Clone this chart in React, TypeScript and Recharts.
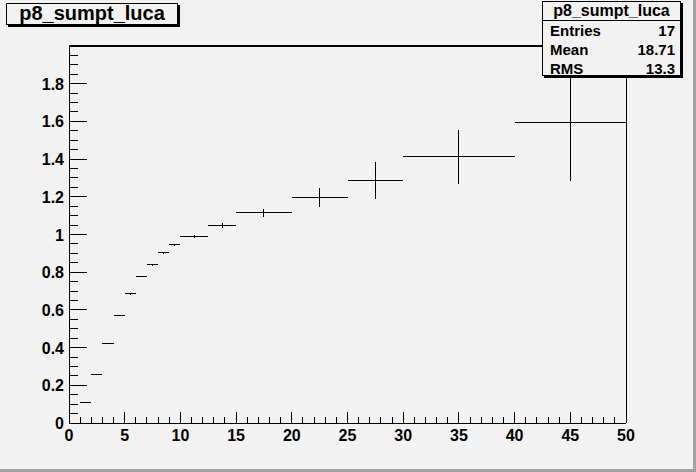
import { ComposedChart, Scatter, XAxis, YAxis, ErrorBar, ReferenceLine } from 'recharts';

// profile bins (low edge, high edge), mean value and error
const BIN_LO = [1, 2, 3, 4, 5, 6, 7, 8, 9, 10, 12.5, 15, 20, 25, 30, 40];
const BIN_HI = [2, 3, 4, 5, 6, 7, 8, 9, 10, 12.5, 15, 20, 25, 30, 40, 50];
const MEAN_Y = [0.107, 0.257, 0.42, 0.569, 0.685, 0.776, 0.839, 0.903, 0.945, 0.988, 1.048, 1.115, 1.195, 1.285, 1.412, 1.593];
const ERR_Y = [0.002, 0.003, 0.003, 0.003, 0.004, 0.004, 0.004, 0.005, 0.006, 0.008, 0.014, 0.021, 0.051, 0.097, 0.142, 0.31];

const X_MAJOR = [0, 5, 10, 15, 20, 25, 30, 35, 40, 45, 50];
const Y_MAJOR = [0, 0.2, 0.4, 0.6, 0.8, 1, 1.2, 1.4, 1.6, 1.8];
const Y_MAX = 2;

const TITLE = 'p8_sumpt_luca';
const STATS = [
  ['Entries', '17'],
  ['Mean', '18.71'],
  ['RMS', '13.3'],
];

const FONT = '"Liberation Sans", Arial, Helvetica, sans-serif';

// minor ticks: 5 per major on x, 4 per major on y
const xTicks: number[] = [];
for (let i = 0; i <= 50; i++) xTicks.push(i);
const yTicks: number[] = [];
for (let i = 0; i <= 40; i++) yTicks.push(Math.round(i * 5) / 100);

const data = BIN_LO.map((lo, i) => {
  const c = (lo + BIN_HI[i]) / 2;
  return { x: c, y: MEAN_Y[i], ex: [c - lo, BIN_HI[i] - c], ey: ERR_Y[i] };
});

const XTick = (props: any) => {
  const { x, y, payload } = props;
  const v = payload.value;
  const major = X_MAJOR.includes(v);
  return (
    <g>
      <line x1={x} x2={x} y1={y} y2={y - (major ? 11 : 6)} stroke="#000" />
      {major && (
        <text x={x} y={y + 18} textAnchor="middle" fontFamily={FONT} fontWeight="bold" fontSize={16} fill="#000">
          {v}
        </text>
      )}
    </g>
  );
};

const YTick = (props: any) => {
  const { x, y, payload } = props;
  const v = payload.value;
  const major = Y_MAJOR.some((m) => Math.abs(m - v) < 1e-6);
  return (
    <g>
      <line x1={x} x2={x + (major ? 18 : 9)} y1={y} y2={y} stroke="#000" />
      {major && (
        <text x={x - 5} y={y + 6} textAnchor="end" fontFamily={FONT} fontWeight="bold" fontSize={16} fill="#000">
          {String(v)}
        </text>
      )}
    </g>
  );
};

export default function App() {
  return (
    <div
      style={{
        position: 'absolute',
        left: 0,
        top: 0,
        width: 696,
        height: 472,
        background: '#f2f2f2',
        fontFamily: FONT,
        overflow: 'hidden',
      }}
    >
      <ComposedChart
        width={696}
        height={472}
        margin={{ top: 46, right: 70, left: 0, bottom: 0 }}
        style={{ shapeRendering: 'crispEdges' }}
      >
        <XAxis
          type="number"
          dataKey="x"
          domain={[0, 50]}
          ticks={xTicks}
          interval={0}
          height={49}
          tickSize={0}
          tickMargin={0}
          tickLine={false}
          axisLine={{ stroke: '#000' }}
          tick={<XTick />}
        />
        <YAxis
          type="number"
          dataKey="y"
          domain={[0, Y_MAX]}
          ticks={yTicks}
          interval={0}
          width={69}
          tickSize={0}
          tickMargin={0}
          tickLine={false}
          axisLine={{ stroke: '#000' }}
          tick={<YTick />}
        />
        <ReferenceLine y={Y_MAX} stroke="#000" strokeWidth={2} />
        <ReferenceLine x={50} stroke="#000" />
        <Scatter data={data} isAnimationActive={false} shape={() => <g />}>
          <ErrorBar dataKey="ex" direction="x" width={0} stroke="#000" strokeWidth={1} />
          <ErrorBar dataKey="ey" direction="y" width={0} stroke="#000" strokeWidth={1} />
        </Scatter>
      </ComposedChart>

      {/* title box */}
      <div
        style={{
          position: 'absolute',
          left: 6,
          top: 3,
          width: 172,
          height: 22,
          boxSizing: 'border-box',
          border: '1px solid #000',
          boxShadow: '2px 2px 0 #000',
          background: '#f2f2f2',
          textAlign: 'center',
          fontWeight: 'bold',
          fontSize: 20,
          lineHeight: '19px',
        }}
      >
        {TITLE}
      </div>

      {/* stats box */}
      <div
        style={{
          position: 'absolute',
          left: 542,
          top: 1,
          width: 139,
          height: 75,
          boxSizing: 'border-box',
          border: '1px solid #000',
          boxShadow: '2px 2px 0 #000',
          background: '#f2f2f2',
          fontWeight: 'bold',
          fontSize: 15,
        }}
      >
        <div
          style={{
            height: 18,
            lineHeight: '18px',
            textAlign: 'center',
            fontSize: 16,
            borderBottom: '1px solid #000',
          }}
        >
          {TITLE}
        </div>
        {STATS.map(([k, v], i) => (
          <div
            key={k}
            style={{
              position: 'absolute',
              left: 7,
              right: 5,
              top: 19 + i * 19,
              height: 19,
              lineHeight: '19px',
              display: 'flex',
              justifyContent: 'space-between',
            }}
          >
            <span>{k}</span>
            <span>{v}</span>
          </div>
        ))}
      </div>

      {/* canvas bevel */}
      <div style={{ position: 'absolute', right: 0, top: 0, width: 3, height: 472, background: '#a0a0a0' }} />
      <div style={{ position: 'absolute', left: 0, bottom: 0, width: 696, height: 3, background: '#a0a0a0' }} />
    </div>
  );
}
